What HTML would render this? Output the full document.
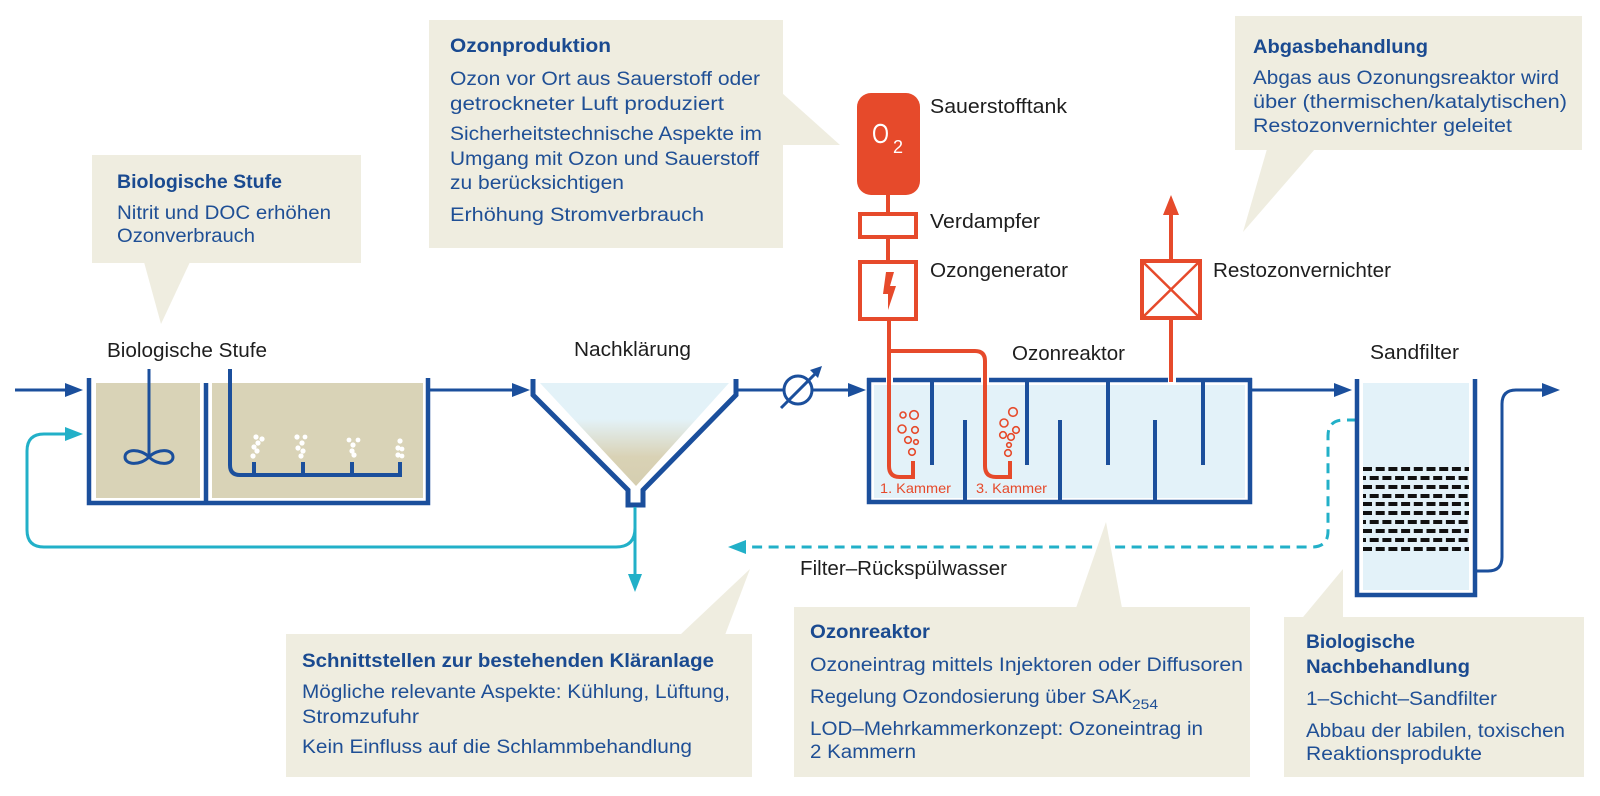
<!DOCTYPE html>
<html><head><meta charset="utf-8"><style>
html,body{margin:0;padding:0;background:#fff;}
svg{display:block;}
text{font-family:"Liberation Sans",sans-serif;}
.lb{font-size:20px;fill:#1e1e1e;}
.ct{font-size:19px;fill:#1f4f95;}
.tt{font-size:19px;fill:#1a4a90;font-weight:bold;}
</style></head><body>
<svg width="1600" height="796" viewBox="0 0 1600 796" xmlns="http://www.w3.org/2000/svg">
<defs>
<linearGradient id="fg" x1="0" y1="0" x2="0" y2="1">
<stop offset="0" stop-color="#e3f2f8"/><stop offset="0.35" stop-color="#e3f2f8"/><stop offset="0.72" stop-color="#d9d2b5"/><stop offset="1" stop-color="#d5ceb0"/>
</linearGradient>
</defs>
<rect width="1600" height="796" fill="#fff"/>

<!-- ===== Biological stage tank ===== -->
<rect x="96" y="383" width="104" height="115" fill="#d9d3b7"/>
<rect x="212" y="383" width="211" height="115" fill="#d9d3b7"/>
<g stroke="#1b4f9c" stroke-width="4.5" fill="none">
<path d="M89,378 L89,503 L428,503 L428,378"/>
<line x1="206" y1="383" x2="206" y2="503"/>
</g>
<!-- mixer -->
<g stroke="#1b4f9c" stroke-width="3" fill="none">
<line x1="149" y1="369" x2="149" y2="457"/>
<path d="M149,457 C140,448 125,449 125,457 C125,465 140,466 149,457 C158,448 173,449 173,457 C173,465 158,466 149,457 Z"/>
</g>
<!-- aeration -->
<g stroke="#1b4f9c" stroke-width="4" fill="none">
<path d="M230,369 L230,465 Q230,475 240,475 L402,475"/>
<line x1="254" y1="462" x2="254" y2="475"/>
<line x1="303" y1="462" x2="303" y2="475"/>
<line x1="352" y1="462" x2="352" y2="475"/>
<line x1="400" y1="462" x2="400" y2="475"/>
</g>
<g fill="#fff">
<circle cx="256" cy="437" r="2.6"/><circle cx="262" cy="439" r="2.6"/><circle cx="258" cy="443" r="2.6"/><circle cx="254" cy="447" r="2.6"/><circle cx="257" cy="451" r="2.6"/><circle cx="253" cy="456" r="2.6"/>
<circle cx="297" cy="437" r="2.6"/><circle cx="305" cy="437" r="2.4"/><circle cx="302" cy="443" r="2.6"/><circle cx="298" cy="448" r="2.6"/><circle cx="303" cy="451" r="2.6"/><circle cx="301" cy="456" r="2.6"/>
<circle cx="349" cy="440" r="2.4"/><circle cx="358" cy="440" r="2.4"/><circle cx="353" cy="445" r="2.6"/><circle cx="352" cy="451" r="2.6"/><circle cx="354" cy="455" r="2.6"/>
<circle cx="400" cy="441" r="2.6"/><circle cx="398" cy="448" r="2.6"/><circle cx="402" cy="449" r="2.4"/><circle cx="398" cy="455" r="2.6"/><circle cx="402" cy="456" r="2.4"/>
</g>

<!-- ===== Flow lines (blue) ===== -->
<g stroke="#1b4f9c" stroke-width="3" fill="none">
<line x1="15" y1="390" x2="66" y2="390"/>
<line x1="428" y1="390" x2="513" y2="390"/>
<line x1="736" y1="390" x2="784" y2="390"/>
<line x1="812" y1="390" x2="849" y2="390"/>
<circle cx="798" cy="390" r="14"/>
<line x1="781" y1="408" x2="816" y2="373"/>
<line x1="1250" y1="390" x2="1335" y2="390"/>
<path d="M1476,571 L1488,571 Q1502,571 1502,557 L1502,404 Q1502,390 1516,390 L1543,390"/>
</g>
<g fill="#1b4f9c">
<polygon points="83,390 65,383 65,397"/>
<polygon points="530,390 512,383 512,397"/>
<polygon points="866,390 848,383 848,397"/>
<polygon points="1352,390 1334,383 1334,397"/>
<polygon points="1560,390 1542,383 1542,397"/>
<polygon points="822,366 810,370 818,378"/>
</g>

<!-- ===== Nachklärung ===== -->
<polygon points="540,383 729,383 636,486" fill="url(#fg)"/>
<path d="M533,379 L533,395 L628,490 L628,505 L643,505 L643,490 L736,395 L736,379" stroke="#1b4f9c" stroke-width="5" fill="none" stroke-linejoin="miter"/>

<!-- ===== Cyan recirculation ===== -->
<g stroke="#22b0c8" stroke-width="3" fill="none">
<line x1="635" y1="507" x2="635" y2="575"/>
<path d="M635,528 Q635,547 616,547 L44,547 Q27,547 27,530 L27,451 Q27,434 44,434 L66,434"/>
<path d="M1357,420 L1344,420 Q1328,420 1328,436 L1328,531 Q1328,547 1312,547 L746,547" stroke-dasharray="10 6.5"/>
</g>
<g fill="#22b0c8">
<polygon points="83,434 65,427 65,441"/>
<polygon points="635,592 628,574 642,574"/>
<polygon points="728,547 746,540 746,554"/>
</g>

<!-- ===== Ozone reactor ===== -->
<rect x="874" y="385" width="371" height="113" fill="#e3f2f9"/>
<g stroke="#1b4f9c" stroke-width="4.5" fill="none">
<path d="M869,378 L869,502 L1250,502 L1250,378"/>
<line x1="867" y1="380" x2="886" y2="380"/>
<line x1="893" y1="380" x2="981" y2="380"/>
<line x1="989" y1="380" x2="1168" y2="380"/>
<line x1="1176" y1="380" x2="1252" y2="380"/>
</g>
<g stroke="#1b4f9c" stroke-width="4" fill="none">
<line x1="932" y1="380" x2="932" y2="465"/>
<line x1="1027" y1="380" x2="1027" y2="465"/>
<line x1="1108" y1="380" x2="1108" y2="465"/>
<line x1="1203" y1="380" x2="1203" y2="465"/>
<line x1="965" y1="420" x2="965" y2="502"/>
<line x1="1060" y1="420" x2="1060" y2="502"/>
<line x1="1155" y1="420" x2="1155" y2="502"/>
</g>

<!-- ===== Red ozone system ===== -->
<g stroke="#e64a2b" stroke-width="4" fill="none">
<line x1="888" y1="195" x2="888" y2="212"/>
<rect x="860" y="214" width="56" height="23" fill="#fff"/>
<line x1="888" y1="238" x2="888" y2="260"/>
<rect x="860" y="262" width="56" height="57" fill="#fff"/>
<path d="M889,320 L889,466 Q889,477 900,477 L913,477 L913,461"/>
<path d="M889,351 L975,351 Q985,351 985,361 L985,466 Q985,477 996,477 L1010,477 L1010,461"/>
<line x1="1171" y1="320" x2="1171" y2="382"/>
<line x1="1171" y1="259" x2="1171" y2="213"/>
<rect x="1142" y="261" width="58" height="57"/>
<line x1="1142" y1="261" x2="1200" y2="318" stroke-width="2.5"/>
<line x1="1200" y1="261" x2="1142" y2="318" stroke-width="2.5"/>
</g>
<polygon points="1171,195 1163,215 1179,215" fill="#e64a2b"/>
<rect x="857" y="93" width="63" height="102" rx="14" fill="#e64a2b"/>
<text x="872" y="143" style="font-size:28px;fill:#fff" textLength="17" lengthAdjust="spacingAndGlyphs">O</text>
<text x="893" y="153" style="font-size:18px;fill:#fff">2</text>
<polygon points="886,272 894,272 890,286 896,286 888,310 888,294 883,294" fill="#e64a2b"/>
<g stroke="#e64a2b" stroke-width="1.6" fill="none">
<circle cx="903" cy="415" r="3"/><circle cx="914" cy="415" r="4.3"/><circle cx="902" cy="429" r="4"/><circle cx="915" cy="430" r="3.3"/><circle cx="908" cy="440" r="3.3"/><circle cx="916" cy="442" r="2.3"/><circle cx="912" cy="452" r="3.3"/>
<circle cx="1013" cy="412" r="4.3"/><circle cx="1004" cy="423" r="4"/><circle cx="1016" cy="430" r="3.3"/><circle cx="1003" cy="435" r="3.3"/><circle cx="1011" cy="437" r="3.3"/><circle cx="1009" cy="445" r="2.3"/><circle cx="1008" cy="453" r="3.3"/>
</g>
<text x="880" y="493" style="font-size:14px;fill:#e64a2b" textLength="71" lengthAdjust="spacingAndGlyphs">1. Kammer</text>
<text x="976" y="493" style="font-size:14px;fill:#e64a2b" textLength="71" lengthAdjust="spacingAndGlyphs">3. Kammer</text>

<!-- ===== Sand filter ===== -->
<rect x="1363" y="383" width="106" height="207" fill="#e3f2f9"/>
<path d="M1357,379 L1357,595 L1475,595 L1475,379" stroke="#1b4f9c" stroke-width="4.5" fill="none"/>
<g stroke="#111" stroke-width="4" fill="none">
<line x1="1363" y1="469" x2="1469" y2="469" stroke-dasharray="9 3.7"/>
<line x1="1363" y1="478" x2="1469" y2="478" stroke-dasharray="3 3.7 9 3.7 9 3.7 9 3.7 9 3.7 9 3.7 9 3.7 9 3.7 9 3.7"/>
<line x1="1363" y1="487" x2="1469" y2="487" stroke-dasharray="9 3.7"/>
<line x1="1363" y1="496" x2="1469" y2="496" stroke-dasharray="3 3.7 9 3.7 9 3.7 9 3.7 9 3.7 9 3.7 9 3.7 9 3.7 9 3.7"/>
<line x1="1363" y1="504" x2="1469" y2="504" stroke-dasharray="9 3.7"/>
<line x1="1363" y1="513" x2="1469" y2="513" stroke-dasharray="9 3.7"/>
<line x1="1363" y1="522" x2="1469" y2="522" stroke-dasharray="3 3.7 9 3.7 9 3.7 9 3.7 9 3.7 9 3.7 9 3.7 9 3.7 9 3.7"/>
<line x1="1363" y1="531" x2="1469" y2="531" stroke-dasharray="9 3.7"/>
<line x1="1363" y1="540" x2="1469" y2="540" stroke-dasharray="3 3.7 9 3.7 9 3.7 9 3.7 9 3.7 9 3.7 9 3.7 9 3.7 9 3.7"/>
<line x1="1363" y1="549" x2="1469" y2="549" stroke-dasharray="9 3.7"/>
</g>

<!-- ===== Labels ===== -->
<text class="lb" x="107" y="357" textLength="160" lengthAdjust="spacingAndGlyphs">Biologische Stufe</text>
<text class="lb" x="574" y="356" textLength="117" lengthAdjust="spacingAndGlyphs">Nachklärung</text>
<text class="lb" x="1012" y="360" textLength="113" lengthAdjust="spacingAndGlyphs">Ozonreaktor</text>
<text class="lb" x="1370" y="359" textLength="89" lengthAdjust="spacingAndGlyphs">Sandfilter</text>
<text class="lb" x="930" y="113" textLength="137" lengthAdjust="spacingAndGlyphs">Sauerstofftank</text>
<text class="lb" x="930" y="228" textLength="110" lengthAdjust="spacingAndGlyphs">Verdampfer</text>
<text class="lb" x="930" y="277" textLength="138" lengthAdjust="spacingAndGlyphs">Ozongenerator</text>
<text class="lb" x="1213" y="277" textLength="178" lengthAdjust="spacingAndGlyphs">Restozonvernichter</text>
<text class="lb" x="800" y="575" textLength="207" lengthAdjust="spacingAndGlyphs">Filter–Rückspülwasser</text>

<!-- ===== Callouts ===== -->
<g fill="#efede0">
<!-- Biologische Stufe -->
<rect x="92" y="155" width="269" height="108"/>
<polygon points="144,262 190,262 161,324"/>
<!-- Ozonproduktion -->
<rect x="429" y="20" width="354" height="228"/>
<polygon points="782,93 840,145 782,145"/>
<!-- Abgasbehandlung -->
<rect x="1235" y="16" width="347" height="134"/>
<polygon points="1267,149 1315,149 1243,232"/>
<!-- Schnittstellen -->
<rect x="286" y="634" width="466" height="143"/>
<polygon points="680,635 725,635 750,569"/>
<!-- Ozonreaktor -->
<rect x="794" y="607" width="456" height="170"/>
<polygon points="1076,608 1122,608 1106,522"/>
<!-- Biologische Nachbehandlung -->
<rect x="1284" y="617" width="300" height="160"/>
<polygon points="1343,569 1343,618 1284,652 1284,640"/>
</g>

<!-- Biologische Stufe text -->
<text class="tt" x="117" y="188" textLength="165" lengthAdjust="spacingAndGlyphs">Biologische Stufe</text>
<text class="ct" x="117" y="219" textLength="214" lengthAdjust="spacingAndGlyphs">Nitrit und DOC erhöhen</text>
<text class="ct" x="117" y="242" textLength="138" lengthAdjust="spacingAndGlyphs">Ozonverbrauch</text>

<!-- Ozonproduktion text -->
<text class="tt" x="450" y="52" textLength="161" lengthAdjust="spacingAndGlyphs">Ozonproduktion</text>
<text class="ct" x="450" y="85" textLength="310" lengthAdjust="spacingAndGlyphs">Ozon vor Ort aus Sauerstoff oder</text>
<text class="ct" x="450" y="110" textLength="274" lengthAdjust="spacingAndGlyphs">getrockneter Luft produziert</text>
<text class="ct" x="450" y="140" textLength="312" lengthAdjust="spacingAndGlyphs">Sicherheitstechnische Aspekte im</text>
<text class="ct" x="450" y="165" textLength="309" lengthAdjust="spacingAndGlyphs">Umgang mit Ozon und Sauerstoff</text>
<text class="ct" x="450" y="189" textLength="174" lengthAdjust="spacingAndGlyphs">zu berücksichtigen</text>
<text class="ct" x="450" y="221" textLength="254" lengthAdjust="spacingAndGlyphs">Erhöhung Stromverbrauch</text>

<!-- Abgasbehandlung text -->
<text class="tt" x="1253" y="53" textLength="175" lengthAdjust="spacingAndGlyphs">Abgasbehandlung</text>
<text class="ct" x="1253" y="84" textLength="306" lengthAdjust="spacingAndGlyphs">Abgas aus Ozonungsreaktor wird</text>
<text class="ct" x="1253" y="108" textLength="314" lengthAdjust="spacingAndGlyphs">über (thermischen/katalytischen)</text>
<text class="ct" x="1253" y="132" textLength="259" lengthAdjust="spacingAndGlyphs">Restozonvernichter geleitet</text>

<!-- Schnittstellen text -->
<text class="tt" x="302" y="667" textLength="412" lengthAdjust="spacingAndGlyphs">Schnittstellen zur bestehenden Kläranlage</text>
<text class="ct" x="302" y="698" textLength="428" lengthAdjust="spacingAndGlyphs">Mögliche relevante Aspekte: Kühlung, Lüftung,</text>
<text class="ct" x="302" y="723" textLength="117" lengthAdjust="spacingAndGlyphs">Stromzufuhr</text>
<text class="ct" x="302" y="753" textLength="390" lengthAdjust="spacingAndGlyphs">Kein Einfluss auf die Schlammbehandlung</text>

<!-- Ozonreaktor text -->
<text class="tt" x="810" y="638" textLength="120" lengthAdjust="spacingAndGlyphs">Ozonreaktor</text>
<text class="ct" x="810" y="671" textLength="433" lengthAdjust="spacingAndGlyphs">Ozoneintrag mittels Injektoren oder Diffusoren</text>
<text class="ct" x="810" y="703" textLength="322" lengthAdjust="spacingAndGlyphs">Regelung Ozondosierung über SAK</text>
<text class="ct" x="1132" y="709" style="font-size:14px" textLength="26" lengthAdjust="spacingAndGlyphs">254</text>
<text class="ct" x="810" y="735" textLength="393" lengthAdjust="spacingAndGlyphs">LOD–Mehrkammerkonzept: Ozoneintrag in</text>
<text class="ct" x="810" y="758" textLength="106" lengthAdjust="spacingAndGlyphs">2 Kammern</text>

<!-- Biologische Nachbehandlung text -->
<text class="tt" x="1306" y="648" textLength="109" lengthAdjust="spacingAndGlyphs">Biologische</text>
<text class="tt" x="1306" y="673" textLength="164" lengthAdjust="spacingAndGlyphs">Nachbehandlung</text>
<text class="ct" x="1306" y="705" textLength="191" lengthAdjust="spacingAndGlyphs">1–Schicht–Sandfilter</text>
<text class="ct" x="1306" y="737" textLength="259" lengthAdjust="spacingAndGlyphs">Abbau der labilen, toxischen</text>
<text class="ct" x="1306" y="760" textLength="176" lengthAdjust="spacingAndGlyphs">Reaktionsprodukte</text>
</svg>
</body></html>
